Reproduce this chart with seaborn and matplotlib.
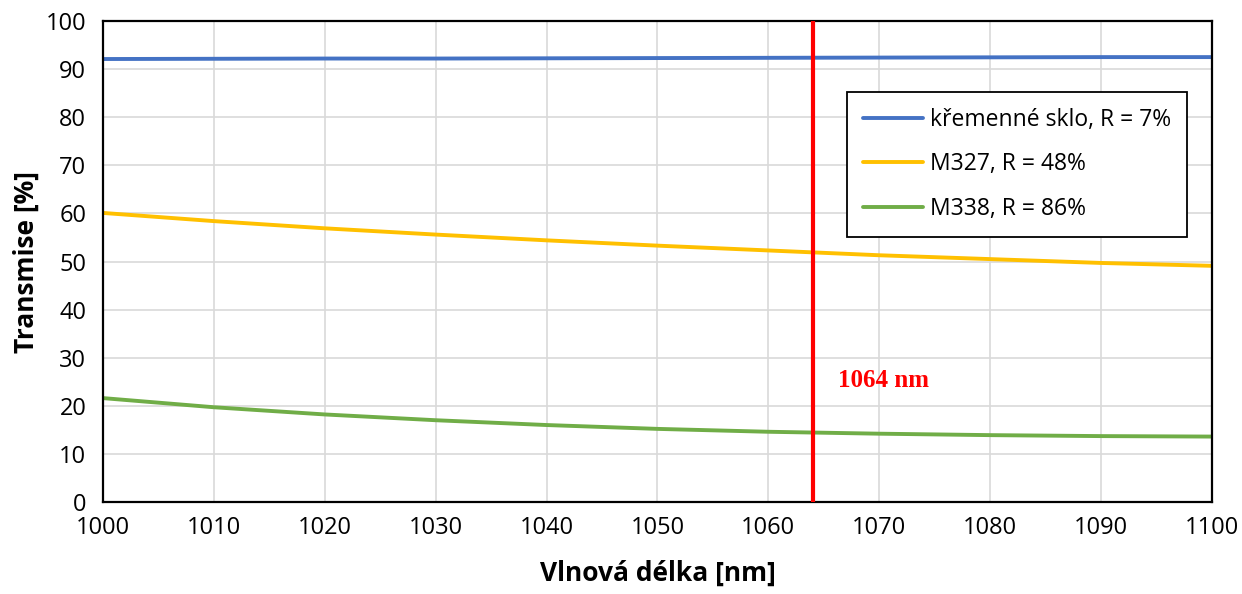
import matplotlib
matplotlib.use("Agg")
import matplotlib.pyplot as plt
import seaborn as sns
import pandas as pd

wavelength = [1000, 1010, 1020, 1030, 1040, 1050, 1060, 1070, 1080, 1090, 1100]
quartz = [92.1, 92.15, 92.2, 92.2, 92.25, 92.3, 92.35, 92.4, 92.45, 92.5, 92.5]
m327 = [60.1, 58.4, 56.9, 55.6, 54.4, 53.3, 52.3, 51.3, 50.5, 49.7, 49.1]
m338 = [21.6, 19.7, 18.2, 17.0, 16.0, 15.2, 14.6, 14.2, 13.9, 13.7, 13.6]
labels = ["křemenné sklo, R = 7%", "M327, R = 48%", "M338, R = 86%"]
colors = ["#4472c4", "#ffc000", "#70ad47"]
marker_wl = 1064

sns.set_theme(style="white")
plt.rcParams['font.family'] = ['Open Sans', 'DejaVu Sans']
plt.rcParams['text.color'] = 'black'
plt.rcParams['axes.labelcolor'] = 'black'

df = pd.DataFrame({
    "wl": wavelength * 3,
    "T": quartz + m327 + m338,
    "series": [labels[0]] * len(wavelength) + [labels[1]] * len(wavelength) + [labels[2]] * len(wavelength),
})

fig = plt.figure(figsize=(12.42, 5.94), dpi=100)
ax = fig.add_axes([0.0829, 0.1549, 0.8929, 0.8097])
sns.lineplot(data=df, x="wl", y="T", hue="series", palette=colors, linewidth=2.8, ax=ax)

ax.axvline(marker_wl, color="#ff0000", linewidth=3, zorder=5)
ax.text(1066.3, 25.3, "1064 nm", color="#ff0000", fontsize=18, fontweight="bold",
        family="Liberation Serif", va="center", ha="left")

ax.set_xlim(1000, 1100)
ax.set_ylim(0, 100)
ax.set_xticks(range(1000, 1101, 10))
ax.set_yticks(range(0, 101, 10))
ax.grid(True, color="#d9d9d9", linewidth=1.2)
ax.set_axisbelow(True)
for s in ax.spines.values():
    s.set_color("black")
    s.set_linewidth(1.6)
ax.tick_params(axis="x", labelsize=17, colors="black", length=0, pad=10)
ax.tick_params(axis="y", labelsize=17, colors="black", length=0, pad=12)
ax.set_xlabel("Vlnová délka [nm]", fontsize=19, fontweight="bold", labelpad=14)
ax.set_ylabel("Transmise [%]", fontsize=19, fontweight="bold", labelpad=4)

leg = ax.legend(loc="upper left", bbox_to_anchor=(0.671, 0.853), fontsize=16.5,
                frameon=True, fancybox=False, edgecolor="black", framealpha=1,
                handlelength=2.6, labelspacing=0.9, borderpad=0.7, handletextpad=0.3,
                borderaxespad=0)
leg.get_frame().set_linewidth(1.3)
for t in leg.get_texts():
    t.set_color("black")

fig.savefig("out.png", dpi=100)
